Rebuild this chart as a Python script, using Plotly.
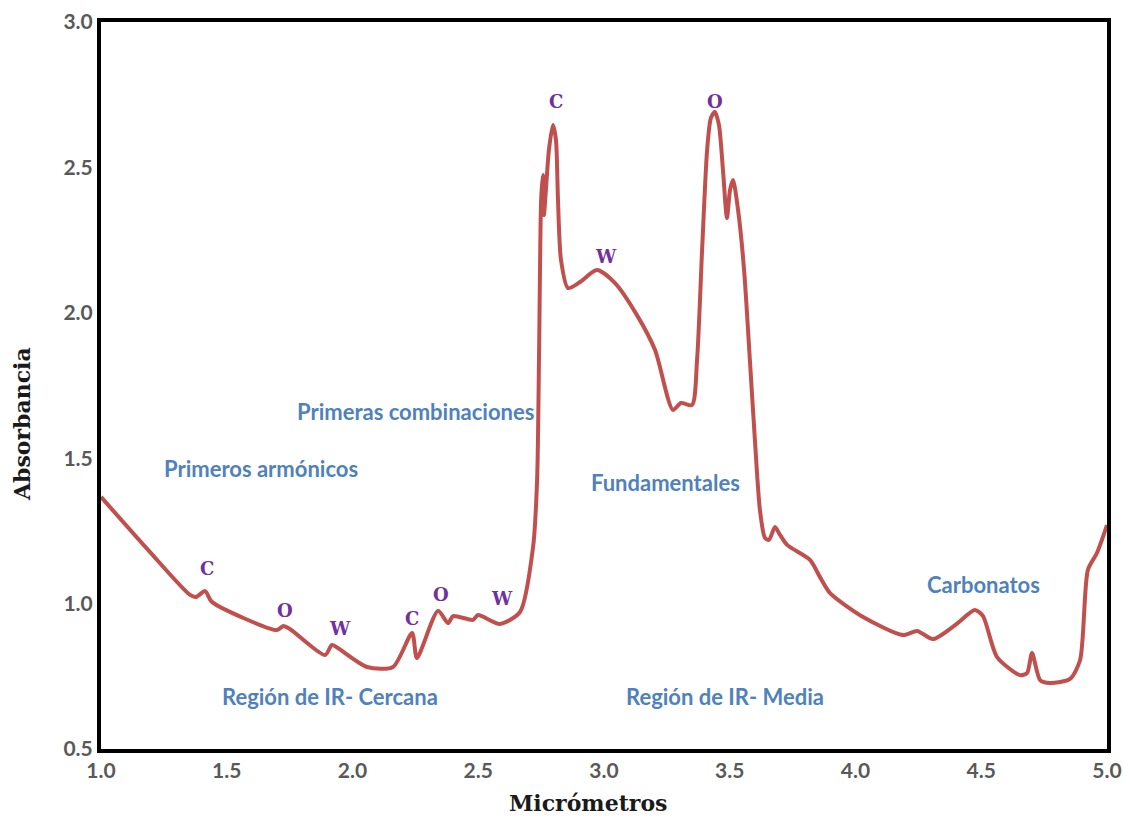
import plotly.graph_objects as go

# Spectrum (micrometers, absorbance)
wavelength = [1.000, 1.195, 1.354, 1.378, 1.414, 1.441, 1.700, 1.724, 1.751, 1.891,
              1.918, 1.942, 2.058, 2.161, 2.237, 2.256, 2.340, 2.380, 2.400, 2.479,
              2.499, 2.586, 2.666, 2.718, 2.734, 2.742, 2.750, 2.757, 2.761, 2.769,
              2.781, 2.797, 2.809, 2.817, 2.829, 2.857, 2.905, 2.972, 3.044, 3.131,
              3.203, 3.274, 3.306, 3.350, 3.370, 3.390, 3.410, 3.425, 3.441, 3.457,
              3.473, 3.489, 3.501, 3.513, 3.533, 3.557, 3.580, 3.600, 3.620, 3.640,
              3.656, 3.680, 3.700, 3.728, 3.819, 3.859, 3.899, 4.030, 4.189, 4.245,
              4.308, 4.396, 4.475, 4.507, 4.563, 4.654, 4.682, 4.702, 4.734, 4.773,
              4.853, 4.893, 4.924, 4.960, 5.000]
absorbance = [1.367, 1.177, 1.030, 1.023, 1.043, 1.006, 0.909, 0.923, 0.913, 0.823,
              0.858, 0.847, 0.782, 0.782, 0.899, 0.813, 0.975, 0.933, 0.957, 0.944,
              0.961, 0.930, 0.971, 1.195, 1.425, 1.872, 2.388, 2.474, 2.336, 2.422,
              2.560, 2.646, 2.594, 2.388, 2.182, 2.085, 2.106, 2.147, 2.102, 1.992,
              1.872, 1.666, 1.690, 1.683, 1.838, 2.216, 2.560, 2.670, 2.691, 2.646,
              2.491, 2.326, 2.422, 2.457, 2.354, 2.147, 1.838, 1.563, 1.322, 1.226,
              1.219, 1.263, 1.236, 1.202, 1.150, 1.091, 1.036, 0.954, 0.892, 0.906,
              0.878, 0.926, 0.978, 0.957, 0.816, 0.754, 0.761, 0.830, 0.737, 0.727,
              0.741, 0.806, 1.116, 1.174, 1.270]

# Region labels
region_text = ["Primeros armónicos", "Primeras combinaciones", "Fundamentales",
               "Región de IR- Cercana", "Región de IR- Media", "Carbonatos"]
region_x = [1.636, 2.252, 3.243, 1.911, 3.481, 4.507]
region_y = [1.463, 1.662, 1.415, 0.682, 0.682, 1.064]

# Band letters
band_text = ["C", "O", "W", "C", "O", "W", "C", "O", "W"]
band_x = [2.809, 3.441, 3.008, 1.421, 1.732, 1.950, 2.237, 2.352, 2.594]
band_y = [2.728, 2.725, 2.192, 1.119, 0.975, 0.916, 0.950, 1.030, 1.019]

x_ticks = [1.0, 1.5, 2.0, 2.5, 3.0, 3.5, 4.0, 4.5, 5.0]
y_ticks = [0.5, 1.0, 1.5, 2.0, 2.5, 3.0]

x_title = "Micrómetros"
y_title = "Absorbancia"

fig = go.Figure()
fig.add_trace(go.Scatter(
    x=wavelength, y=absorbance, mode="lines",
    line=dict(color="#C0504D", width=4, shape="spline", smoothing=0.7),
    hoverinfo="x+y", showlegend=False))

annotations = []
for t, x, y in zip(region_text, region_x, region_y):
    annotations.append(dict(x=x, y=y, text=t, showarrow=False, xref="x", yref="y",
                            font=dict(family="Lato", size=22, color="#4F81BD", weight="bold")))
for t, x, y in zip(band_text, band_x, band_y):
    annotations.append(dict(x=x, y=y, text=t, showarrow=False, xref="x", yref="y",
                            font=dict(family="DejaVu Serif", size=18, color="#7030A0", weight="bold")))

title_font = dict(family="DejaVu Serif", size=22, color="#1a1a1a", weight="bold")
annotations.append(dict(x=0.484, y=0, yshift=-54, xref="paper", yref="paper",
                        text=x_title, showarrow=False, xanchor="center", yanchor="middle",
                        font=title_font))
annotations.append(dict(x=-0.0785, y=0.447, xref="paper", yref="paper",
                        text=y_title, showarrow=False, xanchor="center", yanchor="middle",
                        textangle=-90, font=title_font))

tick_font = dict(family="Lato", size=21, color="#595959", weight="bold")

fig.update_layout(
    width=1125, height=816,
    margin=dict(l=101, r=18, t=22, b=67),
    paper_bgcolor="white", plot_bgcolor="white",
    annotations=annotations,
    xaxis=dict(range=[1.0, 5.0], tickvals=x_ticks, ticktext=[f"{v:.1f}" for v in x_ticks],
               showgrid=False, zeroline=False, showline=True, linecolor="black",
               linewidth=4, mirror=True, ticks="", automargin=False,
               tickfont=tick_font),
    yaxis=dict(range=[0.5, 3.0], tickvals=y_ticks, ticktext=[f"{v:.1f}" for v in y_ticks],
               showgrid=False, zeroline=False, showline=True, linecolor="black",
               linewidth=4, mirror=True, ticks="", automargin=False,
               tickfont=tick_font),
)

fig.write_html("out.html")
